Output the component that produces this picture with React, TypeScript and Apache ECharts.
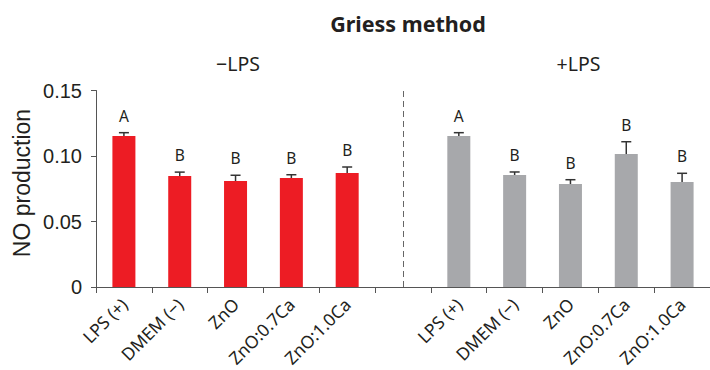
import React, { useEffect, useRef } from "react";
import * as echarts from "echarts";

const groupNames = ["LPS (+)", "DMEM (−)", "ZnO", "ZnO:0.7Ca", "ZnO:1.0Ca"];
const minusLpsValues = [0.1153, 0.0847, 0.0809, 0.0832, 0.087];
const minusLpsErrors = [0.0025, 0.003, 0.0044, 0.0025, 0.0046];
const minusLpsLetters = ["A", "B", "B", "B", "B"];
const plusLpsValues = [0.1153, 0.0855, 0.0786, 0.1015, 0.0802];
const plusLpsErrors = [0.0025, 0.0023, 0.0033, 0.0094, 0.0066];
const plusLpsLetters = ["A", "B", "B", "B", "B"];

const RED = "#ED1C24";
const GRAY = "#A7A8AB";
const TEXT = "#231F20";

export default function App() {
  const ref = useRef<HTMLDivElement>(null);
  useEffect(() => {
    if (!ref.current) return;
    const chart = echarts.init(ref.current, undefined, { renderer: "svg" });

    const categories = [...groupNames, "", ...groupNames];
    const barData: any[] = [];
    const errData: any[] = [];
    minusLpsValues.forEach((v, i) => {
      barData.push({ value: v, itemStyle: { color: RED } });
      errData.push([i, v, minusLpsErrors[i], minusLpsLetters[i]]);
    });
    barData.push("-");
    plusLpsValues.forEach((v, i) => {
      const idx = groupNames.length + 1 + i;
      barData.push({ value: v, itemStyle: { color: GRAY } });
      errData.push([idx, v, plusLpsErrors[i], plusLpsLetters[i]]);
    });

    const option: any = {
      animation: false,
      grid: { left: 96, top: 90.5, bottom: 83, width: 624, containLabel: false },
      xAxis: {
        type: "category",
        data: categories,
        boundaryGap: true,
        axisLine: { lineStyle: { color: "#555", width: 1 } },
        axisTick: { show: true, interval: 0, length: 6, lineStyle: { color: "#555" } },
        axisLabel: {
          interval: 0,
          rotate: 45,
          margin: 14,
          color: TEXT,
          fontSize: 17.5,
          fontFamily: "Noto Sans",
        },
      },
      yAxis: {
        type: "value",
        min: 0,
        max: 0.15,
        interval: 0.05,
        splitLine: { show: false },
        axisLine: { show: true, lineStyle: { color: "#555", width: 1 } },
        axisTick: { show: true, length: 5, lineStyle: { color: "#555" } },
        axisLabel: {
          margin: 14,
          color: TEXT,
          fontSize: 20,
          fontFamily: "Liberation Sans",
          formatter: (v: number) => (v === 0 ? "0" : v.toFixed(2)),
        },
      },
      series: [
        {
          type: "bar",
          data: barData,
          barWidth: 23,
          markLine: {
            silent: true,
            symbol: "none",
            label: { show: false },
            lineStyle: { color: "#666", width: 1, type: [6, 4] },
            data: [{ xAxis: groupNames.length }],
          },
        },
        {
          type: "custom",
          data: errData,
          encode: { x: 0, y: 1 },
          z: 5,
          renderItem: (params: any, api: any) => {
            const idx = api.value(0);
            const v = api.value(1);
            const e = api.value(2);
            const letter = errData[params.dataIndex][3];
            const base = api.coord([idx, v]);
            const top = api.coord([idx, v + e]);
            const cap = 5;
            return {
              type: "group",
              children: [
                {
                  type: "line",
                  shape: { x1: base[0], y1: base[1], x2: top[0], y2: top[1] },
                  style: { stroke: "#333", lineWidth: 1.5 },
                },
                {
                  type: "line",
                  shape: { x1: top[0] - cap, y1: top[1], x2: top[0] + cap, y2: top[1] },
                  style: { stroke: "#333", lineWidth: 1.5 },
                },
                {
                  type: "text",
                  style: {
                    text: letter,
                    x: top[0],
                    y: top[1] - 17,
                    align: "center",
                    verticalAlign: "middle",
                    fill: TEXT,
                    fontSize: 15.5,
                    fontFamily: "Noto Sans",
                  },
                },
              ],
            };
          },
        },
      ],
      graphic: [
        {
          type: "text",
          x: 408,
          y: 23,
          style: {
            text: "Griess method",
            align: "center",
            verticalAlign: "middle",
            fill: TEXT,
            fontSize: 21.5,
            fontWeight: "bold",
            fontFamily: "Noto Sans",
          },
        },
        {
          type: "text",
          x: 238,
          y: 63,
          style: {
            text: "−LPS",
            align: "center",
            verticalAlign: "middle",
            fill: TEXT,
            fontSize: 19.5,
            fontFamily: "Noto Sans",
          },
        },
        {
          type: "text",
          x: 578.5,
          y: 63,
          style: {
            text: "+LPS",
            align: "center",
            verticalAlign: "middle",
            fill: TEXT,
            fontSize: 19.5,
            fontFamily: "Noto Sans",
          },
        },
        {
          type: "text",
          x: 22,
          y: 183,
          rotation: Math.PI / 2,
          style: {
            text: "NO production",
            align: "center",
            verticalAlign: "middle",
            fill: TEXT,
            fontSize: 23,
            fontFamily: "Liberation Sans",
          },
        },
      ],
    };
    chart.setOption(option);
    return () => chart.dispose();
  }, []);
  return <div ref={ref} style={{ width: 710, height: 370, position: "absolute", left: 0, top: 0 }} />;
}
